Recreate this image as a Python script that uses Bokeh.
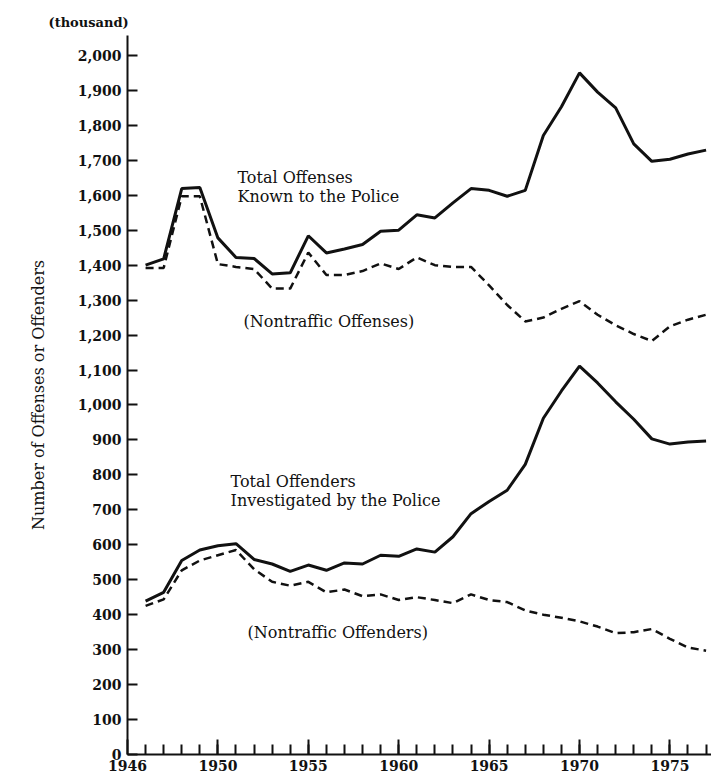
from bokeh.plotting import figure
from bokeh.models import FixedTicker, NumeralTickFormatter, Label
from bokeh.embed import file_html
from bokeh.resources import INLINE

years = [1946, 1947, 1948, 1949, 1950, 1951, 1952, 1953, 1954, 1955,
         1956, 1957, 1958, 1959, 1960, 1961, 1962, 1963, 1964, 1965,
         1966, 1967, 1968, 1969, 1970, 1971, 1972, 1973, 1974, 1975,
         1976, 1977]

# thousands
total_offenses = [1400, 1418, 1619, 1622, 1478, 1422, 1419, 1375, 1378, 1484,
                  1435, 1446, 1459, 1497, 1500, 1544, 1535, 1578, 1619, 1614,
                  1597, 1614, 1771, 1853, 1950, 1895, 1850, 1747, 1697, 1703,
                  1718, 1729]
nontraffic_offenses = [1392, 1392, 1597, 1597, 1403, 1395, 1389, 1333, 1333, 1436,
                       1372, 1372, 1383, 1405, 1389, 1422, 1400, 1395, 1395, 1342,
                       1286, 1239, 1250, 1275, 1297, 1258, 1228, 1203, 1183, 1225,
                       1244, 1258]
total_offenders = [439, 464, 555, 585, 597, 603, 558, 545, 524, 542,
                   527, 548, 545, 570, 567, 588, 579, 623, 689, 724,
                   756, 830, 962, 1040, 1111, 1063, 1009, 959, 903, 888,
                   894, 897]
nontraffic_offenders = [425, 444, 527, 555, 570, 585, 530, 494, 483, 494,
                        464, 472, 453, 458, 442, 450, 442, 433, 458, 442,
                        436, 412, 400, 391, 381, 366, 347, 350, 359, 331,
                        306, 297]

x_major_ticks = [1945, 1950, 1955, 1960, 1965, 1970, 1975]
x_tick_labels = ["1946", "1950", "1955", "1960", "1965", "1970", "1975"]
y_ticks = [0, 100, 200, 300, 400, 500, 600, 700, 800, 900, 1000,
           1100, 1200, 1300, 1400, 1500, 1600, 1700, 1800, 1900, 2000]

INK = "#111111"
SERIF = "DejaVu Serif"

p = figure(width=711, height=779, x_range=(1945, 1977.3), y_range=(0, 2057),
           output_backend="svg", toolbar_location=None,
           min_border_left=127, min_border_right=0,
           min_border_top=35, min_border_bottom=25)
p.outline_line_color = None
p.grid.visible = False
p.background_fill_color = "white"
p.border_fill_color = "white"

p.title.text = "(thousand)"
p.title.align = "left"
p.title.offset = -79
p.title.standoff = 12
p.title.text_font = SERIF
p.title.text_font_size = "13px"
p.title.text_font_style = "bold"
p.title.text_color = INK

p.line(years, total_offenses, line_width=3, color=INK)
p.line(years, nontraffic_offenses, line_width=2.5, color=INK, line_dash="8 5")
p.line(years, total_offenders, line_width=3, color=INK)
p.line(years, nontraffic_offenders, line_width=2.5, color=INK, line_dash="8 5")

# x axis
xa = p.xaxis[0]
xa.ticker = FixedTicker(ticks=x_major_ticks, minor_ticks=years)
xa.major_label_overrides = dict(zip(x_major_ticks, x_tick_labels))
xa.major_tick_in = 15
xa.major_tick_out = 0
xa.minor_tick_in = 10
xa.minor_tick_out = 0
xa.axis_line_width = 2
xa.major_tick_line_width = 2
xa.minor_tick_line_width = 2
xa.axis_line_color = INK
xa.major_tick_line_color = INK
xa.minor_tick_line_color = INK
xa.major_label_text_font = SERIF
xa.major_label_text_font_style = "bold"
xa.major_label_text_font_size = "14px"
xa.major_label_text_color = INK
xa.major_label_standoff = 5

# y axis
ya = p.yaxis[0]
ya.ticker = FixedTicker(ticks=y_ticks, minor_ticks=[])
ya.formatter = NumeralTickFormatter(format="0,0")
ya.major_tick_in = 10
ya.major_tick_out = 0
ya.minor_tick_in = 0
ya.minor_tick_out = 0
ya.axis_line_width = 2
ya.major_tick_line_width = 2
ya.axis_line_color = INK
ya.major_tick_line_color = INK
ya.major_label_text_font = SERIF
ya.major_label_text_font_style = "bold"
ya.major_label_text_font_size = "14px"
ya.major_label_text_color = INK
ya.major_label_standoff = 6
ya.axis_label = "Number of Offenses or Offenders"
ya.axis_label_text_font = SERIF
ya.axis_label_text_font_style = "normal"
ya.axis_label_text_font_size = "16px"
ya.axis_label_text_color = INK
ya.axis_label_standoff = 27

def add_text(x, y, s, size="16px", style="normal"):
    p.add_layout(Label(x=x, y=y, text=s, text_font=SERIF, text_font_size=size,
                       text_font_style=style, text_color=INK,
                       text_align="left", text_baseline="middle"))

add_text(1951.08, 1651, "Total Offenses")
add_text(1951.08, 1597, "Known to the Police")
add_text(1951.42, 1239, "(Nontraffic Offenses)")
add_text(1950.70, 781, "Total Offenders")
add_text(1950.70, 727, "Investigated by the Police")
add_text(1951.64, 349, "(Nontraffic Offenders)")

open("out.html", "w").write(file_html(p, INLINE))
